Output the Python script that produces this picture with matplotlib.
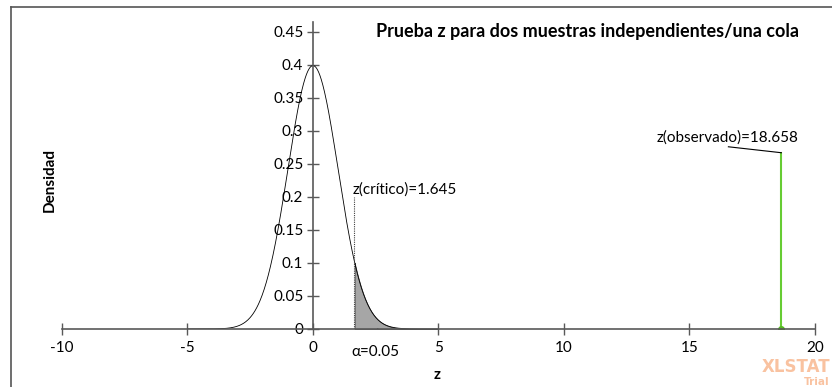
import matplotlib.pyplot as plt
from matplotlib.lines import Line2D
import numpy as np

# standard normal used by the test
mu = 0.0
sigma = 1.0
z_critico = 1.645
z_observado = 18.658
alpha_txt = 'α=0.05'

x_ticks = [-10, -5, 0, 5, 10, 15, 20]
y_ticks = [0, 0.05, 0.1, 0.15, 0.2, 0.25, 0.3, 0.35, 0.4, 0.45]
y_tick_labels = ['0', '0.05', '0.1', '0.15', '0.2', '0.25', '0.3', '0.35', '0.4', '0.45']

plt.rcParams['font.family'] = ['Lato', 'DejaVu Sans']

z = np.linspace(-5, 5, 600)
dens = np.exp(-0.5 * ((z - mu) / sigma) ** 2) / (sigma * np.sqrt(2 * np.pi))

fig = plt.figure(figsize=(8.32, 3.87), dpi=100)
ax = fig.add_axes([62 / 832, 58 / 387, (815 - 62) / 832, (329 - 22) / 387])

axis_col = '#595959'
fs = 11

# curve and rejection region
ax.plot(z, dens, color='black', lw=0.6)
mask = z >= z_critico
ax.fill_between(z[mask], 0, dens[mask], color='#a6a6a6', edgecolor='#404040', lw=0.5)

# critical value marker
ax.plot([z_critico, z_critico], [0, 0.2], color='#404040', lw=0.8, ls=(0, (1, 1)))
ax.text(z_critico - 0.05, 0.2, 'z(crítico)=1.645', fontsize=fs, ha='left', va='bottom')

# observed value marker
ax.plot([z_observado, z_observado], [0, 0.267], color='#66cc33', lw=1.5)
ax.plot([z_observado], [0], 'o', color='#55bb22', ms=4)
ax.plot([z_observado, 16.55], [0.267, 0.276], color='black', lw=0.8)
ax.text(16.5, 0.279, 'z(observado)=18.658', fontsize=fs, ha='center', va='bottom')

# alpha label
ax.plot([2.5, 2.58], [-0.008, 0.0], color='black', lw=0.8)
ax.text(2.5, -0.035, alpha_txt, fontsize=fs, ha='center', va='center')

ax.set_xlim(-10, 20)
ax.set_ylim(0, 0.465)

ax.spines['left'].set_position(('data', 0))
ax.spines['bottom'].set_position(('data', 0))
ax.spines['top'].set_visible(False)
ax.spines['right'].set_visible(False)
for s in ['left', 'bottom']:
    ax.spines[s].set_color(axis_col)
    ax.spines[s].set_linewidth(1.2)

ax.set_xticks(x_ticks)
ax.set_xticklabels([str(t) for t in x_ticks])
ax.set_yticks(y_ticks)
ax.set_yticklabels(y_tick_labels)
ax.tick_params(axis='both', direction='inout', length=8, width=1.0, color=axis_col, labelsize=fs)
ax.tick_params(axis='x', pad=5)
ax.tick_params(axis='y', pad=3)

fig.text(437 / 832, 1 - 375 / 387, 'z', fontsize=fs, fontweight='bold', ha='center', va='center')
fig.text(50 / 832, 1 - 180 / 387, 'Densidad', fontsize=fs, fontweight='bold',
         rotation=90, ha='center', va='center')
fig.text(588 / 832, 1 - 31 / 387, 'Prueba z para dos muestras independientes/una cola',
         fontsize=13, fontweight='bold', ha='center', va='center')

# screenshot frame
fig.add_artist(Line2D([11 / 832, 1], [1 - 7 / 387, 1 - 7 / 387], color='#555555', lw=1.2))
fig.add_artist(Line2D([11 / 832, 11 / 832], [0, 1 - 7 / 387], color='#555555', lw=1.2))

# watermark
fig.text(830 / 832, 1 - 367 / 387, 'XLSTAT', fontsize=12, fontweight='heavy',
         color='#f9c2a0', ha='right', va='center', family='DejaVu Sans')
fig.text(830 / 832, 1 - 382 / 387, 'Trial', fontsize=7.5, fontweight='bold',
         color='#f9c2a0', ha='right', va='center', family='DejaVu Sans')

fig.savefig('out.png', dpi=100)
